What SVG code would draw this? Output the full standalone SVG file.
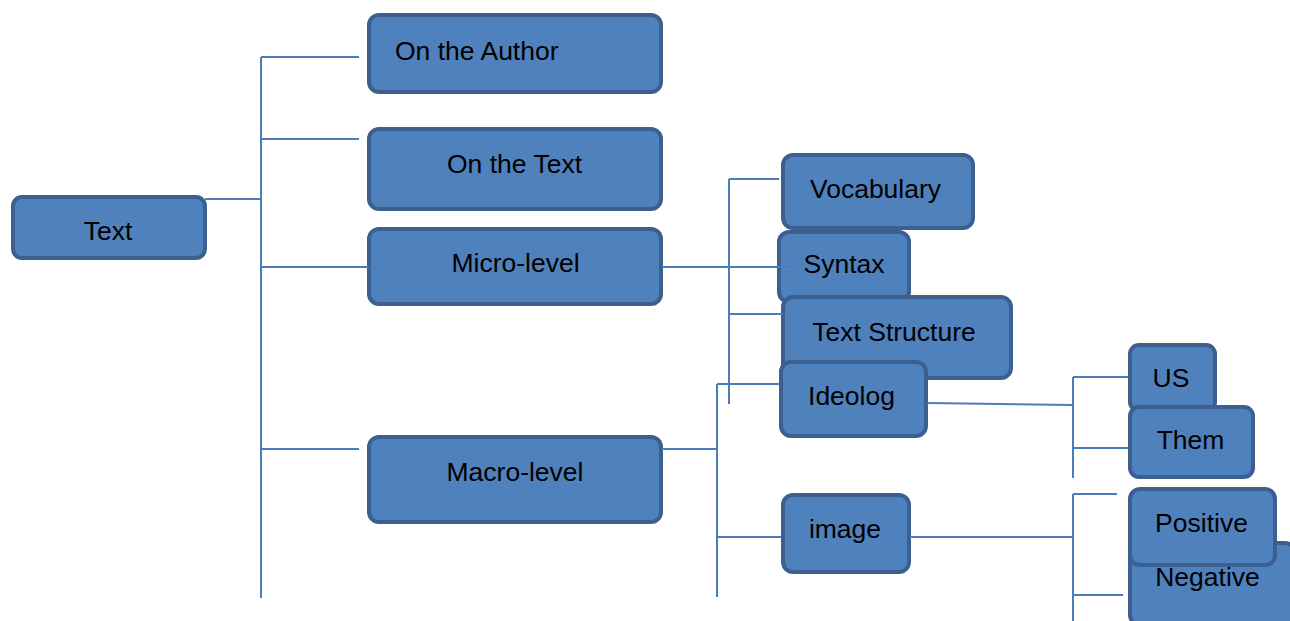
<svg xmlns="http://www.w3.org/2000/svg" width="1290" height="621" viewBox="0 0 1290 621">
<style>
.box{fill:#4f81bd;stroke:#3b5f8e;stroke-width:4}
.lbl{font-family:"Liberation Sans",Arial,sans-serif;font-size:26.5px;fill:#000;text-anchor:middle}
.con{fill:none;stroke:#4a7ebb;stroke-width:2}
</style>
<rect width="1290" height="621" fill="#fff"/>
<g id="n-text"><rect class="box" x="13" y="197" width="192" height="61" rx="9"/><text class="lbl" x="108" y="240">Text</text></g>
<g id="n-author"><rect class="box" x="369" y="15" width="292" height="77" rx="10"/><text class="lbl" x="395" y="60" style="text-anchor:start">On the Author</text></g>
<g id="n-onthetext"><rect class="box" x="369" y="129" width="292" height="80" rx="10"/><text class="lbl" x="514.5" y="173">On the Text</text></g>
<g id="n-micro"><rect class="box" x="369" y="229" width="292" height="75" rx="10"/><text class="lbl" x="515.5" y="272">Micro-level</text></g>
<g id="n-macro"><rect class="box" x="369" y="437" width="292" height="85" rx="10"/><text class="lbl" x="515" y="481">Macro-level</text></g>
<g id="n-vocab"><rect class="box" x="783" y="155" width="190" height="73" rx="10"/><text class="lbl" x="875.5" y="198">Vocabulary</text></g>
<g id="n-syntax"><rect class="box" x="779" y="232" width="130" height="70" rx="10"/><text class="lbl" x="844" y="273">Syntax</text></g>
<g id="n-structure"><rect class="box" x="783" y="297" width="228" height="81" rx="10"/><text class="lbl" x="894" y="341">Text Structure</text></g>
<g id="n-ideolog"><rect class="box" x="781" y="362" width="145" height="74" rx="10"/><text class="lbl" x="851.5" y="405">Ideolog</text></g>
<g id="n-image"><rect class="box" x="783" y="495" width="126" height="77" rx="10"/><text class="lbl" x="845" y="538">image</text></g>
<g id="n-us"><rect class="box" x="1130" y="345" width="85" height="66" rx="9"/><text class="lbl" x="1171" y="387">US</text></g>
<g id="n-them"><rect class="box" x="1130" y="407" width="123" height="70" rx="9"/><text class="lbl" x="1190.5" y="449">Them</text></g>
<g id="n-negative"><rect class="box" x="1130" y="543" width="165" height="82" rx="10"/><text class="lbl" x="1207.5" y="586">Negative</text></g>
<g id="n-positive"><rect class="box" x="1130" y="489" width="145" height="76" rx="10"/><text class="lbl" x="1201.5" y="532">Positive</text></g>
<g id="connectors" class="con">
<path d="M205,199H261M261,57V598M261,57H359M261,139H359M261,267H369M261,449H359"/>
<path d="M662,267H793M729,179V404M729,179H779M729,314H783"/>
<path d="M662,449H717M717,384V597M717,384H779M717,537H781"/>
<path d="M927,403L1073,405M1073,377V478M1073,377H1128M1073,448H1128"/>
<path d="M910,537H1073M1073,494V621M1073,494H1117M1073,595H1123"/>
</g>
</svg>
